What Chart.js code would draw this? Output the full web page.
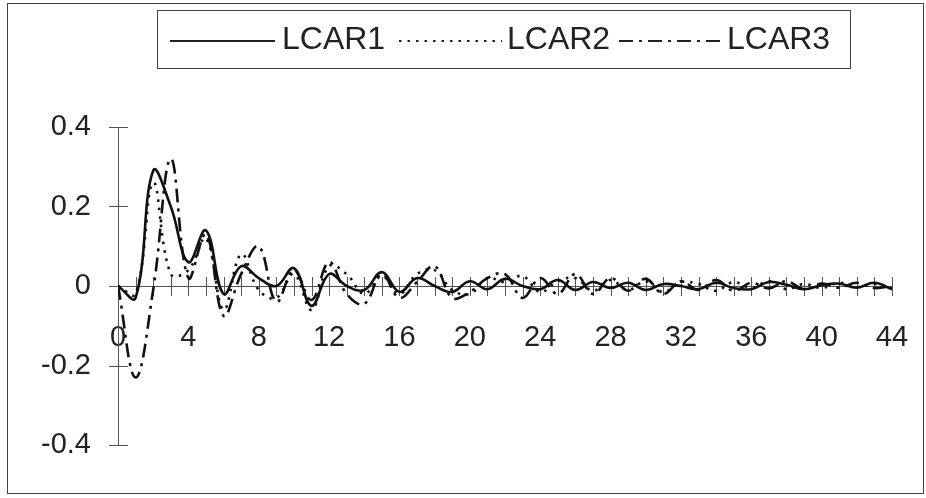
<!DOCTYPE html>
<html>
<head>
<meta charset="utf-8">
<script src="https://cdn.jsdelivr.net/npm/chart.js@4.4.1/dist/chart.umd.min.js"></script>
<style>
  html, body { margin: 0; padding: 0; background: #fff; }
  #wrap { width: 926px; height: 498px; }
</style>
</head>
<body>
<div id="wrap"><canvas id="acfChart" width="926" height="498"></canvas></div>
<script>
// lag numbers on the x axis
const lags = [0, 1, 2, 3, 4, 5, 6, 7, 8, 9, 10, 11, 12, 13, 14, 15, 16, 17, 18, 19, 20, 21,
  22, 23, 24, 25, 26, 27, 28, 29, 30, 31, 32, 33, 34, 35, 36, 37, 38, 39, 40, 41, 42, 43, 44];

const lcar1 = [0, -0.03, 0.29, 0.20, 0.06, 0.14, -0.02, 0.05, 0.02, 0.0, 0.045, -0.05, 0.03, 0.0,
  -0.01, 0.035, -0.015, 0.02, 0.0, -0.015, 0.012, -0.008, 0.018, 0.0, -0.008, 0.015, -0.01, 0.01,
  -0.005, 0.008, -0.01, 0.005, 0.0, -0.008, 0.008, -0.005, -0.008, 0.01, 0.003, -0.008, 0.002,
  0.006, -0.004, 0.008, -0.008];

const lcar2 = [0, -0.02, 0.26, 0.03, 0.04, 0.12, -0.06, 0.08, -0.01, -0.03, 0.03, -0.06, 0.05, 0.03,
  -0.02, 0.025, -0.02, 0.03, 0.04, -0.01, -0.02, 0.02, 0.01, 0.025, -0.015, 0.012, 0.02, -0.012,
  0.015, -0.01, 0.012, -0.015, 0.01, 0.005, -0.012, 0.01, -0.005, 0.012, -0.008, 0.005, -0.005,
  0.008, -0.003, 0.005, -0.006];

const lcar3 = [0, -0.23, -0.01, 0.32, 0.02, 0.13, -0.075, 0.03, 0.10, -0.04, 0.04, -0.035, 0.06,
  -0.02, -0.045, 0.03, -0.03, 0.01, 0.05, -0.03, -0.015, 0.02, 0.03, -0.03, 0.02, -0.02, 0.03,
  -0.02, 0.02, -0.012, 0.018, -0.02, 0.012, -0.01, 0.015, -0.012, 0.008, -0.006, 0.012, -0.008,
  0.006, -0.004, 0.008, -0.005, 0.0];

const seriesNames = ['LCAR1', 'LCAR2', 'LCAR3'];
const seriesDash = [[], [2.5, 6], [14, 6, 3, 6]];

const FONT = '"Liberation Sans", Arial, sans-serif';

function toPoints(values) {
  return values.map((v, i) => ({ x: lags[i], y: v }));
}

// tick marks that cross both axes, plus the axis lines themselves
const crossAxes = {
  id: 'crossAxes',
  beforeDatasetsDraw(chart) {
    const { ctx, scales: { x, y } } = chart;
    const x0 = x.getPixelForValue(0);
    const y0 = y.getPixelForValue(0);
    ctx.save();
    ctx.strokeStyle = '#555';
    ctx.lineWidth = 1;
    ctx.beginPath();
    ctx.moveTo(Math.round(x0) + 0.5, y.getPixelForValue(0.4));
    ctx.lineTo(Math.round(x0) + 0.5, y.getPixelForValue(-0.4));
    ctx.moveTo(x0, Math.round(y0) + 0.5);
    ctx.lineTo(x.getPixelForValue(44), Math.round(y0) + 0.5);
    lags.forEach(l => {
      const px = Math.round(x.getPixelForValue(l)) + 0.5;
      ctx.moveTo(px, y0 - 9);
      ctx.lineTo(px, y0 + 10);
    });
    y.ticks.forEach(t => {
      const py = Math.round(y.getPixelForValue(t.value)) + 0.5;
      ctx.moveTo(x0 - 9, py);
      ctx.lineTo(x0 + 10, py);
    });
    ctx.stroke();
    ctx.restore();
  }
};

// boxed legend across the top and the outer frame
const boxedLegend = {
  id: 'boxedLegend',
  afterDraw(chart) {
    const { ctx } = chart;
    ctx.save();
    ctx.strokeStyle = '#444';
    ctx.lineWidth = 1;
    ctx.strokeRect(7.5, 3.5, 916, 490);
    ctx.strokeRect(157.5, 10.5, 693, 58);

    const items = [
      { lineFrom: 170, lineTo: 275, textX: 282 },
      { lineFrom: 399, lineTo: 502, textX: 507 },
      { lineFrom: 619, lineTo: 720, textX: 727 }
    ];
    const midY = 40;
    ctx.font = '32px ' + FONT;
    ctx.textBaseline = 'middle';
    ctx.fillStyle = '#222';
    items.forEach((it, i) => {
      ctx.beginPath();
      ctx.strokeStyle = '#222';
      ctx.lineWidth = 2;
      ctx.setLineDash(seriesDash[i]);
      ctx.moveTo(it.lineFrom, midY + 1);
      ctx.lineTo(it.lineTo, midY + 1);
      ctx.stroke();
      ctx.setLineDash([]);
      ctx.fillText(seriesNames[i], it.textX, midY);
    });
    ctx.restore();
  }
};

const ctx = document.getElementById('acfChart').getContext('2d');
const acfChart = new Chart(ctx, {
  type: 'line',
  data: {
    datasets: [lcar1, lcar2, lcar3].map((vals, i) => ({
      label: seriesNames[i],
      data: toPoints(vals),
      borderColor: '#111',
      borderWidth: 2.6,
      borderDash: seriesDash[i],
      pointRadius: 0,
      tension: 0.4,
      fill: false
    }))
  },
  options: {
    responsive: false,
    animation: false,
    layout: { padding: { top: 127, left: 18, right: 34, bottom: 53 } },
    plugins: {
      legend: { display: false },
      tooltip: { enabled: false }
    },
    scales: {
      x: {
        type: 'linear',
        position: { y: 0 },
        min: 0,
        max: 44,
        grid: { display: false, drawTicks: false },
        border: { display: false },
        afterFit: s => {
          s.height = 0;
          s.paddingLeft = 0;
          s.paddingRight = 0;
        },
        ticks: {
          stepSize: 4,
          padding: 35,
          maxRotation: 0,
          color: '#222',
          font: { family: FONT, size: 29 }
        }
      },
      y: {
        min: -0.4,
        max: 0.4,
        grid: { display: false, drawTicks: false },
        border: { display: false },
        afterFit: s => { s.width = 100; },
        ticks: {
          stepSize: 0.2,
          padding: 27,
          color: '#222',
          font: { family: FONT, size: 29 }
        }
      }
    }
  },
  plugins: [crossAxes, boxedLegend]
});
</script>
</body>
</html>
